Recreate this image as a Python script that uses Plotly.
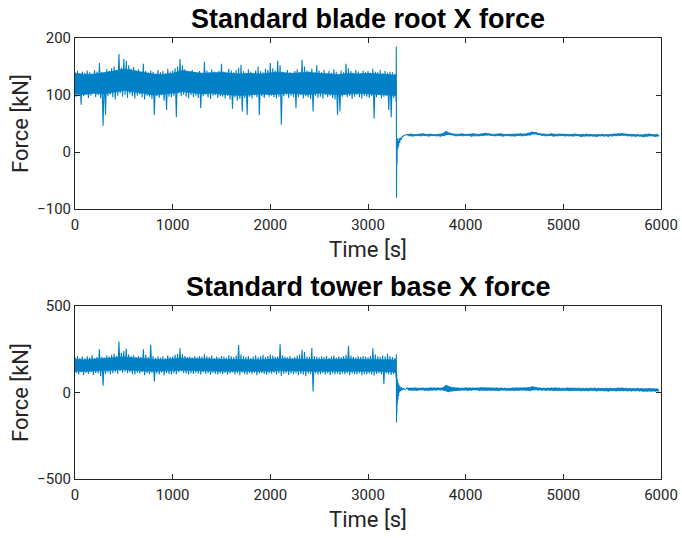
import numpy as np
import plotly.graph_objects as go

# ---- Blade root X force [kN] ----
# Turbulent operation, 0 - 3287.5 s: per-window peak / trough (25 s windows)
blade_hi = [140, 142, 138, 141, 139, 143, 140, 137, 144, 141,
            156, 140, 138, 145, 142, 147, 150, 144, 172, 148,
            163, 160, 152, 146, 149, 143, 145, 140, 155, 142,
            139, 143, 141, 137, 144, 140, 142, 138, 146, 141,
            143, 147, 150, 163, 152, 145, 141, 139, 144, 140,
            138, 142, 139, 158, 143, 140, 145, 141, 137, 142,
            155, 141, 139, 146, 143, 140, 144, 148, 153, 142,
            139, 145, 141, 138, 143, 150, 142, 140, 146, 144,
            156, 147, 143, 160, 152, 141, 139, 144, 140, 138,
            142, 145, 140, 162, 150, 143, 141, 146, 139, 152,
            143, 140, 144, 138, 142, 139, 145, 141, 137, 143,
            140, 155, 147, 142, 139, 144, 141, 138, 143, 140,
            142, 139, 146, 141, 140, 144, 138, 142, 139, 141,
            140, 137]
blade_lo = [97, 100, 83, 98, 102, 95, 99, 103, 96, 100,
            94, 46, 65, 98, 101, 96, 92, 99, 103, 97,
            100, 95, 102, 98, 94, 99, 101, 96, 92, 99,
            97, 93, 65, 98, 95, 100, 90, 74, 97, 96,
            99, 61, 103, 98, 101, 97, 94, 100, 96, 99,
            95, 77, 98, 101, 96, 93, 99, 100, 95, 98,
            97, 94, 99, 92, 76, 96, 90, 93, 71, 95,
            65, 97, 94, 100, 96, 65, 98, 95, 101, 97,
            99, 96, 94, 97, 48, 98, 101, 95, 99, 96,
            77, 96, 100, 94, 98, 96, 93, 71, 99, 95,
            97, 94, 100, 96, 99, 95, 92, 65, 71, 97,
            100, 96, 99, 93, 97, 100, 96, 94, 99, 97,
            95, 98, 59, 96, 100, 94, 97, 99, 74, 61,
            95, 88]
# Edges of the densely filled core of the turbulent span (every 100 s, last at 3285 s)
blade_core_hi = [138, 136, 137, 139, 142, 146, 143, 140, 137, 136,
                 138, 143, 140, 138, 139, 140, 138, 137, 138, 137,
                 139, 140, 138, 139, 140, 138, 137, 136, 138, 137,
                 138, 137, 136, 135]
blade_core_lo = [102, 101, 103, 102, 105, 108, 106, 103, 100, 101,
                 103, 106, 104, 102, 103, 102, 100, 99, 101, 102,
                 101, 102, 103, 102, 101, 103, 102, 100, 102, 103,
                 102, 101, 100, 99]
# Shutdown transient
blade_tr_t = [3287.5, 3290, 3292, 3294, 3297, 3300, 3304, 3308, 3313, 3318, 3324,
              3331, 3340, 3350, 3362, 3376, 3392, 3400]
blade_tr_v = [88, 185, -80, 12, -20, 24, 5, 20, 10, 24, 16,
              25, 22, 27, 28, 30, 30, 31]
# Parked, 3400 - 5980 s: per-window peak / trough (40 s windows)
blade_park_hi = [31, 31.5, 30.5, 31, 32, 31, 31.5, 30.5, 31, 32,
                 36, 33, 31.5, 31, 32, 31, 31.5, 32, 31, 31.5,
                 33, 32, 31, 31.5, 32, 31, 31, 30.5, 31.5, 32,
                 31.5, 33, 35, 34.5, 32, 31.5, 31, 32, 31, 31.5,
                 31, 30.5, 31, 31.5, 30.5, 31, 31.5, 31, 30.5, 31,
                 31, 30.5, 31, 31.5, 32, 32.5, 31.5, 31, 30.5, 31,
                 30, 31, 31.5, 30.5, 31]
blade_park_lo = [28.5, 28, 29, 28.5, 29, 28, 29, 28.5, 28, 29,
                 31, 30, 28.5, 29, 28.5, 29, 28, 29, 28.5, 29,
                 30, 29, 28.5, 29, 28, 29, 28.5, 28, 29, 28.5,
                 29, 30, 32, 31, 29.5, 28.5, 29, 28, 28.5, 29,
                 28, 28.5, 28, 29, 27.5, 28, 28.5, 28, 27.5, 28.5,
                 28, 27.5, 28, 28.5, 29, 29.5, 28.5, 28, 27.5, 28,
                 27, 28, 28.5, 27.5, 28]

# ---- Tower base X force [kN] ----
tower_hi = [205, 212, 200, 208, 198, 210, 203, 215, 200, 206,
            250, 207, 202, 214, 209, 218, 225, 212, 295, 230,
            240, 255, 222, 210, 215, 204, 212, 207, 251, 218,
            205, 276, 212, 200, 208, 203, 210, 198, 214, 206,
            210, 218, 225, 256, 222, 212, 205, 208, 202, 210,
            204, 212, 207, 222, 210, 205, 214, 200, 208, 203,
            212, 208, 203, 216, 210, 206, 214, 275, 220, 210,
            205, 212, 200, 209, 215, 204, 210, 218, 206, 212,
            220, 214, 207, 209, 279, 215, 208, 204, 212, 200,
            206, 213, 220, 247, 235, 210, 205, 257, 212, 207,
            203, 210, 205, 212, 200, 208, 214, 203, 209, 205,
            212, 218, 270, 214, 207, 203, 210, 205, 212, 208,
            204, 212, 256, 220, 210, 206, 214, 208, 224, 210,
            205, 200]
tower_lo = [112, 105, 118, 100, 115, 108, 120, 103, 114, 110,
            95, 40, 108, 116, 104, 112, 118, 109, 125, 115,
            120, 112, 118, 108, 104, 115, 110, 118, 100, 112,
            108, 115, 64, 110, 105, 116, 100, 112, 108, 104,
            112, 106, 118, 122, 114, 110, 105, 112, 108, 115,
            110, 104, 116, 108, 112, 103, 114, 109, 105, 112,
            108, 114, 103, 110, 116, 105, 112, 100, 115, 108,
            104, 112, 107, 115, 100, 110, 114, 108, 103, 112,
            110, 115, 105, 112, 96, 108, 114, 102, 110, 106,
            112, 100, 108, 104, 94, 110, 107, 6, 112, 105,
            108, 114, 104, 110, 100, 112, 106, 109, 103, 110,
            106, 112, 100, 110, 108, 104, 112, 100, 108, 105,
            110, 104, 98, 108, 112, 105, 48, 110, 106, 102,
            108, 85]
tower_core_hi = [192, 190, 194, 196, 202, 206, 200, 196, 192, 191,
                 194, 199, 196, 193, 194, 192, 191, 193, 192, 190,
                 193, 196, 194, 195, 192, 191, 193, 192, 194, 193,
                 192, 194, 191, 189]
tower_core_lo = [124, 122, 125, 126, 130, 132, 128, 125, 123, 124,
                 126, 129, 127, 124, 125, 123, 122, 124, 123, 122,
                 124, 126, 125, 126, 124, 123, 124, 122, 125, 124,
                 123, 124, 122, 118]
tower_tr_t = [3287.5, 3290, 3292, 3294, 3296, 3298, 3300, 3303, 3306, 3309, 3313,
              3317, 3322, 3328, 3335, 3343, 3352, 3362, 3375, 3390, 3400]
tower_tr_v = [85, 222, -173, 110, -120, 80, -70, 70, -45, 55, -20,
              45, 0, 35, 8, 30, 14, 24, 18, 20, 26]
tower_park_hi = [26, 25, 27, 24, 26, 25, 27, 26, 25, 26,
                 42, 32, 28, 26, 25, 27, 26, 25, 26, 28,
                 27, 26, 25, 27, 26, 25, 24, 26, 27, 25,
                 26, 28, 34, 29, 26, 25, 24, 26, 27, 25,
                 24, 26, 25, 24, 25, 23, 24, 25, 26, 24,
                 23, 25, 24, 23, 25, 26, 24, 23, 22, 24,
                 23, 22, 23, 22, 21]
tower_park_lo = [14, 15, 13, 16, 14, 13, 15, 14, 16, 13,
                 4, 9, 13, 14, 15, 13, 14, 16, 13, 14,
                 15, 13, 14, 12, 15, 13, 14, 12, 13, 15,
                 14, 12, 16, 14, 13, 12, 14, 11, 13, 12,
                 14, 11, 12, 13, 10, 12, 11, 13, 10, 12,
                 11, 9, 12, 10, 11, 12, 10, 9, 11, 10,
                 8, 10, 9, 8, 9]

core_t = list(range(0, 3300, 100)) + [3285]

x_ticks = [0, 1000, 2000, 3000, 4000, 5000, 6000]
blade_yticks = [-100, 0, 100, 200]
tower_yticks = [-500, 0, 500]

OP_STEP, PARK_STEP, PARK_START = 25.0, 40.0, 3400.0

LINE = "#0080C6"
INK = "#262626"
TICK_FONT = dict(family="Roboto, Arial, sans-serif", size=15, color=INK)
LABEL_FONT = dict(family="Roboto, Arial, sans-serif", size=22, color=INK)
TITLE_FONT = dict(family="Liberation Sans, Arial, sans-serif", size=27, color="black")


def zigzag(hi, lo, t0, step):
    """Alternate window peaks and troughs in time order."""
    t, v = [], []
    for k, (h, l) in enumerate(zip(hi, lo)):
        t += [t0 + k * step, t0 + k * step + step / 2]
        v += [h, l]
    return t, v


def band(fig, th, hi, tl, lo, xa, ya):
    """Solid band: along the upper edge, then back along the lower edge."""
    fig.add_trace(go.Scatter(x=list(th) + list(tl)[::-1], y=list(hi) + list(lo)[::-1],
                             mode="lines", fill="toself", fillcolor=LINE,
                             line=dict(color=LINE, width=0.6),
                             xaxis=xa, yaxis=ya, hoverinfo="skip"))


def add_signal(fig, hi, lo, chi, clo, tr_t, tr_v, phi, plo, xa, ya):
    # dense core of the turbulent span
    band(fig, core_t, chi, core_t, clo, xa, ya)
    # parked span
    n = len(phi)
    band(fig, [PARK_START + k * PARK_STEP for k in range(n)], phi,
         [PARK_START + k * PARK_STEP + PARK_STEP / 2 for k in range(n)], plo, xa, ya)
    # the time history itself
    t1, v1 = zigzag(hi, lo, 0.0, OP_STEP)
    t3, v3 = zigzag(phi, plo, PARK_START, PARK_STEP)
    fig.add_trace(go.Scatter(x=t1 + tr_t + t3, y=v1 + tr_v + v3, mode="lines",
                             line=dict(color=LINE, width=1.1, simplify=False),
                             xaxis=xa, yaxis=ya))


fig = go.Figure()
add_signal(fig, blade_hi, blade_lo, blade_core_hi, blade_core_lo, blade_tr_t, blade_tr_v,
           blade_park_hi, blade_park_lo, "x", "y")
add_signal(fig, tower_hi, tower_lo, tower_core_hi, tower_core_lo, tower_tr_t, tower_tr_v,
           tower_park_hi, tower_park_lo, "x2", "y2")

ax_common = dict(showline=True, linecolor=INK, linewidth=1, mirror="ticks",
                 ticks="inside", ticklen=5, tickcolor=INK, tickwidth=1,
                 showgrid=False, zeroline=False, tickfont=TICK_FONT,
                 automargin=False)
x_common = dict(range=[0, 6000], tickvals=x_ticks, ticklabelstandoff=2, **ax_common)

fig.update_layout(
    width=682, height=538, showlegend=False,
    margin=dict(l=75, r=21, t=38, b=59),
    paper_bgcolor="white", plot_bgcolor="white",
    xaxis=dict(domain=[0, 1], anchor="y",
               title=dict(text="Time [s]", font=LABEL_FONT, standoff=8), **x_common),
    yaxis=dict(domain=[0.612, 1], anchor="x", range=[-100, 200], tickvals=blade_yticks,
               title=dict(text="Force [kN]", font=LABEL_FONT, standoff=2), **ax_common),
    xaxis2=dict(domain=[0, 1], anchor="y2",
                title=dict(text="Time [s]", font=LABEL_FONT, standoff=8), **x_common),
    yaxis2=dict(domain=[0, 0.392], anchor="x2", range=[-500, 500], tickvals=tower_yticks,
                title=dict(text="Force [kN]", font=LABEL_FONT, standoff=2), **ax_common),
    annotations=[
        dict(text="<b>Standard blade root X force</b>", xref="paper", yref="paper",
             x=0.5, y=1, yshift=2, xanchor="center", yanchor="bottom", showarrow=False,
             font=TITLE_FONT),
        dict(text="<b>Standard tower base X force</b>", xref="paper", yref="paper",
             x=0.5, y=0.392, yshift=2, xanchor="center", yanchor="bottom", showarrow=False,
             font=TITLE_FONT),
    ],
)

fig.write_html("out.html")
